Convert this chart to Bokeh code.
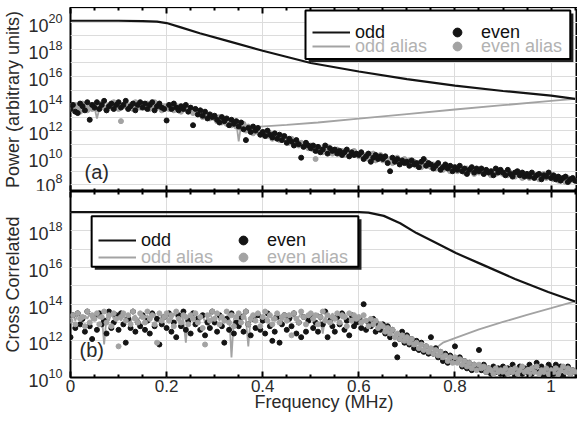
from bokeh.plotting import figure
from bokeh.layouts import column
from bokeh.models import (FixedTicker, LogTickFormatter, LinearAxis, Legend,
                          LegendItem, Label, Range1d, Grid, Spacer)
from bokeh.embed import file_html
from bokeh.resources import INLINE

# ---------------- data (log10 of values) ----------------
freq = [
    0.000, 0.005, 0.010, 0.015, 0.020, 0.025, 0.030, 0.035, 0.040, 0.045,
    0.050, 0.055, 0.060, 0.065, 0.070, 0.075, 0.080, 0.085, 0.090, 0.095,
    0.100, 0.105, 0.110, 0.115, 0.120, 0.125, 0.130, 0.135, 0.140, 0.145,
    0.150, 0.155, 0.160, 0.165, 0.170, 0.175, 0.180, 0.185, 0.190, 0.195,
    0.200, 0.205, 0.210, 0.215, 0.220, 0.225, 0.230, 0.235, 0.240, 0.245,
    0.250, 0.255, 0.260, 0.265, 0.270, 0.275, 0.280, 0.285, 0.290, 0.295,
    0.300, 0.305, 0.310, 0.315, 0.320, 0.325, 0.330, 0.335, 0.340, 0.345,
    0.350, 0.355, 0.360, 0.365, 0.370, 0.375, 0.380, 0.385, 0.390, 0.395,
    0.400, 0.405, 0.410, 0.415, 0.420, 0.425, 0.430, 0.435, 0.440, 0.445,
    0.450, 0.455, 0.460, 0.465, 0.470, 0.475, 0.480, 0.485, 0.490, 0.495,
    0.500, 0.505, 0.510, 0.515, 0.520, 0.525, 0.530, 0.535, 0.540, 0.545,
    0.550, 0.555, 0.560, 0.565, 0.570, 0.575, 0.580, 0.585, 0.590, 0.595,
    0.600, 0.605, 0.610, 0.615, 0.620, 0.625, 0.630, 0.635, 0.640, 0.645,
    0.650, 0.655, 0.660, 0.665, 0.670, 0.675, 0.680, 0.685, 0.690, 0.695,
    0.700, 0.705, 0.710, 0.715, 0.720, 0.725, 0.730, 0.735, 0.740, 0.745,
    0.750, 0.755, 0.760, 0.765, 0.770, 0.775, 0.780, 0.785, 0.790, 0.795,
    0.800, 0.805, 0.810, 0.815, 0.820, 0.825, 0.830, 0.835, 0.840, 0.845,
    0.850, 0.855, 0.860, 0.865, 0.870, 0.875, 0.880, 0.885, 0.890, 0.895,
    0.900, 0.905, 0.910, 0.915, 0.920, 0.925, 0.930, 0.935, 0.940, 0.945,
    0.950, 0.955, 0.960, 0.965, 0.970, 0.975, 0.980, 0.985, 0.990, 0.995,
    1.000, 1.005, 1.010, 1.015, 1.020, 1.025, 1.030, 1.035, 1.040, 1.045,
    1.050,
]

# ----- panel (a): Power -----
odd_a_f = [0.0, 0.10, 0.15, 0.18, 0.20, 0.228, 0.269, 0.33, 0.40, 0.50,
           0.60, 0.70, 0.80, 0.90, 1.00, 1.05]
odd_a_e = [20.12, 20.12, 20.10, 20.05, 19.95, 19.65, 19.2, 18.6, 17.9, 17.0,
           16.37, 15.8, 15.33, 14.93, 14.58, 14.35]

even_a_e = [
    13.6, 13.9, 13.4, 13.3, 14.0, 13.8, 13.5, 14.1, 12.8, 13.9,
    13.7, 14.1, 13.6, 13.9, 14.2, 13.5, 13.8, 14.0, 13.6, 13.9,
    14.1, 13.7, 13.9, 14.2, 13.6, 13.8, 14.0, 13.5, 13.9, 14.1,
    13.7, 14.0, 13.6, 13.9, 14.1, 13.5, 13.8, 14.0, 13.7, 13.6,
    12.75, 13.9, 13.6, 14.0, 13.7, 13.5, 13.8, 13.6, 13.9, 13.4,
    13.7, 12.4, 13.6, 13.2, 13.5, 13.1, 13.4, 12.9, 13.2, 13.0,
    13.1, 12.8, 12.6, 13.0, 12.7, 12.9, 12.4, 12.8, 12.5, 12.7,
    12.3, 12.6, 12.1, 11.3, 12.2, 11.9, 12.3, 12.0, 12.2, 11.7,
    11.9, 11.6, 12.0, 11.7, 11.5, 11.8, 11.4, 11.7, 11.3, 11.6,
    11.1, 11.4, 11.2, 10.9, 11.3, 11.0, 10.0, 10.8, 11.1, 10.9,
    10.7, 10.9, 10.5, 10.8, 10.4, 10.6, 10.9, 10.3, 10.7, 10.5,
    10.6, 10.3, 10.5, 10.2, 10.4, 10.6, 10.1, 10.4, 10.2, 10.3,
    10.2, 10.4, 9.9, 10.1, 10.3, 9.7, 10.0, 10.2, 9.9, 10.1,
    9.9, 10.1, 9.6, 9.0, 10.0, 9.7, 9.9, 9.5, 9.8, 9.6,
    9.7, 9.4, 9.8, 9.5, 9.6, 9.3, 9.7, 9.9, 9.4, 9.6,
    9.5, 9.2, 9.4, 9.6, 9.1, 9.3, 9.5, 9.2, 9.4, 9.0,
    9.3, 9.1, 9.4, 9.0, 9.2, 8.8, 9.1, 9.3, 8.9, 9.2,
    9.0, 9.2, 8.8, 9.1, 8.9, 9.0, 8.7, 9.2, 8.9, 9.1,
    8.9, 8.7, 9.1, 8.8, 8.6, 8.9, 9.0, 8.7, 8.9, 8.6,
    8.8, 8.6, 8.9, 8.5, 8.7, 8.8, 8.4, 8.7, 8.6, 8.9,
    8.5, 8.7, 8.4, 8.6, 8.3, 8.5, 8.6, 8.2, 8.4, 8.5,
    8.3,
]

even_alias_a_e = [
    13.8, 13.5, 13.9, 13.6, 13.4, 14.0, 13.7, 13.5, 13.9, 13.6,
    13.9, 13.6, 13.8, 14.0, 13.7, 13.5, 13.9, 13.7, 14.1, 13.8,
    13.6, 12.7, 13.8, 14.0, 13.7, 13.9, 13.6, 14.1, 13.8, 13.7,
    13.9, 13.7, 14.0, 13.6, 13.8, 14.1, 13.7, 13.9, 13.5, 13.8,
    13.8, 13.6, 13.9, 13.5, 13.8, 13.7, 13.4, 13.7, 13.6, 13.5,
    13.5, 13.3, 13.6, 13.2, 13.4, 13.0, 13.3, 13.1, 12.9, 13.1,
    12.9, 12.7, 13.0, 12.6, 12.8, 12.5, 12.7, 12.4, 12.6, 12.3,
    12.4, 12.2, 12.5, 12.0, 12.3, 12.1, 11.8, 12.0, 11.9, 11.7,
    11.8, 11.9, 11.6, 11.8, 11.4, 11.7, 11.5, 11.3, 11.6, 11.4,
    11.3, 11.1, 11.4, 11.0, 11.2, 10.9, 11.1, 10.8, 11.0, 10.7,
    10.9, 10.6, 9.9, 10.5, 10.7, 10.4, 10.6, 10.8, 10.5, 10.3,
    10.4, 10.6, 10.3, 10.5, 10.2, 10.4, 10.1, 10.3, 10.5, 10.2,
    10.1, 10.3, 10.0, 10.2, 9.9, 10.1, 10.3, 9.8, 10.0, 10.2,
    9.8, 10.0, 9.7, 9.9, 9.6, 9.8, 10.0, 9.6, 9.7, 9.9,
    9.6, 9.8, 9.5, 9.7, 9.4, 9.6, 9.3, 9.5, 9.7, 9.4,
    9.3, 9.5, 9.2, 9.4, 9.3, 9.1, 9.4, 9.2, 9.0, 9.3,
    9.2, 9.0, 9.3, 9.1, 8.9, 9.2, 9.0, 9.1, 8.8, 9.0,
    8.9, 9.1, 8.8, 9.0, 8.9, 8.7, 9.0, 8.8, 9.1, 8.9,
    8.8, 8.9, 8.7, 8.9, 8.8, 8.6, 8.9, 8.7, 8.5, 8.8,
    8.7, 8.5, 8.8, 8.6, 8.7, 8.4, 8.6, 8.8, 8.5, 8.7,
    8.5, 8.4, 8.6, 8.3, 8.5, 8.4, 8.2, 8.5, 8.3, 8.4,
    8.3,
]

# odd alias: noisy part (first 77 bins, 0 .. 0.38 MHz) then the rising alias line
odd_alias_a_noise_e = [
    13.7, 13.5, 13.8, 13.6, 13.9, 13.7, 13.4, 13.8, 13.6, 13.9,
    13.7, 12.9, 13.6, 13.8, 13.7, 13.9, 13.6, 13.8, 13.7, 13.9,
    13.8, 13.6, 13.9, 13.7, 13.8, 13.6, 13.9, 13.7, 13.8, 13.6,
    13.8, 13.7, 13.9, 13.6, 13.8, 13.7, 13.9, 13.6, 13.8, 13.7,
    13.7, 13.8, 13.6, 13.7, 13.5, 13.7, 13.6, 13.4, 13.6, 13.5,
    13.4, 13.5, 13.3, 13.4, 13.2, 13.3, 13.1, 13.2, 13.0, 13.1,
    12.9, 13.0, 12.8, 12.9, 12.7, 12.8, 12.6, 12.7, 12.5, 12.6,
    11.2, 12.4, 12.3, 12.2, 12.3, 12.1, 12.2,
]
odd_alias_a_tail_f = [0.386, 0.45, 0.515, 0.60, 0.70, 0.80, 0.90, 1.00, 1.05]
odd_alias_a_tail_e = [12.28, 12.42, 12.6, 12.88, 13.22, 13.56, 13.88, 14.2, 14.35]

# ----- panel (b): Cross correlated -----
odd_b_f = [0.0, 0.30, 0.60, 0.62, 0.652, 0.686, 0.72, 0.754, 0.802, 0.857,
           0.925, 0.994, 1.05]
odd_b_e = [19.02, 19.02, 19.02, 19.0, 18.82, 18.42, 17.88, 17.43, 16.79, 16.16,
           15.38, 14.67, 14.15]

even_b_e = [
    12.2, 13.4, 12.7, 13.5, 12.9, 13.2, 12.5, 13.6, 12.8, 12.1,
    13.3, 12.6, 13.5, 12.9, 13.1, 12.4, 13.6, 12.7, 13.0, 13.4,
    12.6, 13.5, 12.9, 11.9, 13.2, 12.7, 13.6, 12.5, 13.0, 12.8,
    13.4, 12.6, 13.1, 12.4, 13.5, 12.8, 13.2, 11.8, 12.9, 13.3,
    12.7, 13.5, 12.5, 13.0, 12.2, 13.4, 12.8, 13.6, 12.6, 13.1,
    12.4, 13.5, 12.9, 13.2, 12.6, 13.4, 12.3, 13.0, 12.7, 13.6,
    13.0, 12.5, 13.4, 12.8, 11.9, 13.2, 12.6, 13.5, 12.4, 13.0,
    12.8, 13.3, 12.5, 13.6, 12.9, 12.3, 13.2, 12.7, 13.4, 12.6,
    13.1, 12.4, 13.5, 12.8, 12.0, 12.5, 13.3, 11.9, 12.9, 13.4,
    12.6, 13.2, 12.8, 13.5, 12.4, 13.0, 12.2, 13.3, 12.5, 13.1,
    13.4, 12.7, 13.0, 12.5, 13.3, 12.9, 13.6, 12.2, 13.1, 12.8,
    12.5, 13.3, 12.9, 13.5, 12.6, 13.1, 12.3, 13.4, 12.8, 13.0,
    13.2, 12.7, 14.0, 12.6, 13.0, 12.8, 13.2, 12.5, 12.9, 12.6,
    12.9, 12.4, 12.8, 12.2, 12.6, 11.8, 11.1, 12.1, 12.5, 11.9,
    12.3, 11.8, 12.1, 11.6, 12.0, 11.5, 11.9, 11.4, 11.7, 11.3,
    12.2, 11.3, 11.6, 11.1, 11.4, 10.9, 11.3, 10.8, 11.2, 11.0,
    11.7, 10.9, 11.1, 10.6, 10.9, 10.5, 10.8, 10.4, 10.7, 10.5,
    11.5, 10.4, 10.7, 10.3, 10.5, 10.2, 10.6, 10.3, 10.5, 10.2,
    10.6, 10.2, 10.5, 10.3, 10.7, 10.1, 10.4, 10.6, 10.2, 10.5,
    10.3, 10.7, 10.2, 10.5, 10.8, 10.3, 10.6, 10.1, 10.4, 10.7,
    10.5, 10.2, 10.7, 10.3, 10.6, 10.1, 10.4, 10.6, 10.2, 10.4,
    10.3,
]

even_alias_b_e = [
    13.1, 13.4, 12.9, 13.5, 13.2, 13.3, 12.8, 13.6, 13.0, 13.4,
    13.2, 13.5, 12.9, 13.3, 13.6, 13.0, 13.4, 12.8, 13.5, 13.2,
    11.7, 13.3, 13.5, 13.1, 13.4, 12.9, 13.6, 13.2, 13.0, 13.5,
    13.3, 13.0, 13.6, 13.2, 13.4, 12.9, 11.9, 13.5, 13.1, 13.3,
    13.5, 13.1, 13.4, 12.8, 13.6, 13.2, 13.0, 13.4, 13.3, 12.9,
    13.4, 13.2, 13.5, 13.0, 13.3, 12.7, 11.8, 13.4, 13.1, 13.6,
    13.2, 13.5, 12.9, 13.3, 13.1, 13.6, 13.0, 13.4, 12.8, 13.3,
    13.5, 13.0, 13.3, 13.6, 12.9, 13.2, 13.4, 13.1, 13.5, 12.8,
    13.3, 13.6, 13.1, 13.4, 12.9, 13.2, 13.5, 13.0, 13.3, 13.4,
    13.1, 13.4, 12.3, 13.5, 13.2, 13.0, 13.6, 13.3, 12.9, 13.4,
    13.5, 13.2, 13.4, 12.9, 13.3, 13.6, 13.1, 13.4, 13.0, 13.3,
    13.2, 13.5, 13.0, 13.4, 13.3, 12.8, 13.5, 13.1, 13.4, 13.2,
    13.3, 13.0, 13.4, 13.1, 12.8, 13.2, 12.9, 13.1, 12.7, 12.9,
    12.8, 12.5, 12.7, 12.4, 12.6, 12.2, 12.4, 12.1, 12.3, 12.0,
    12.2, 11.9, 12.1, 11.8, 11.9, 11.6, 11.8, 11.5, 11.7, 11.4,
    11.6, 11.3, 11.5, 11.2, 11.4, 11.1, 11.2, 10.9, 11.1, 10.8,
    11.1, 10.8, 11.0, 10.7, 10.9, 10.6, 10.8, 10.5, 10.7, 10.4,
    10.7, 10.5, 10.6, 10.3, 10.5, 10.4, 10.2, 10.5, 10.3, 10.4,
    10.3, 10.5, 10.2, 10.4, 10.3, 10.5, 10.2, 10.4, 10.6, 10.3,
    10.4, 10.2, 10.5, 10.3, 10.6, 10.2, 10.4, 10.3, 10.5, 10.2,
    10.4, 10.3, 10.5, 10.2, 10.4, 10.6, 10.3, 10.5, 10.2, 10.4,
    10.3,
]

# odd alias: noisy part (first 155 bins, 0 .. 0.77 MHz) then the rising alias line
odd_alias_b_noise_e = [
    13.2, 13.4, 13.1, 13.5, 13.3, 13.0, 13.4, 13.2, 13.5, 13.1,
    13.3, 13.5, 13.2, 13.4, 11.8, 13.3, 13.1, 13.5, 13.2, 13.4,
    13.3, 13.1, 13.4, 13.2, 13.5, 13.0, 13.3, 13.4, 13.1, 13.3,
    13.5, 13.2, 13.4, 13.1, 13.3, 13.5, 13.2, 13.0, 13.4, 13.3,
    13.2, 13.4, 13.1, 13.5, 13.3, 13.2, 13.4, 13.1, 11.9, 13.3,
    13.4, 13.2, 13.5, 13.1, 13.3, 13.4, 13.0, 13.3, 13.5, 13.2,
    13.3, 13.5, 13.1, 13.4, 13.2, 13.3, 13.5, 11.1, 13.2, 13.4,
    13.1, 13.3, 13.5, 13.2, 11.7, 13.4, 13.1, 13.3, 13.5, 13.2,
    13.4, 13.2, 13.3, 13.5, 13.1, 13.4, 13.2, 13.3, 13.0, 13.4,
    13.3, 13.5, 13.2, 13.4, 13.1, 13.3, 13.5, 13.2, 13.4, 13.1,
    13.2, 13.4, 13.3, 13.5, 13.1, 12.4, 13.3, 13.4, 13.2, 13.5,
    13.3, 13.1, 13.4, 13.2, 13.5, 13.3, 13.2, 13.4, 13.1, 13.3,
    13.2, 13.3, 13.1, 13.2, 13.0, 13.1, 12.9, 13.0, 12.8, 12.9,
    12.7, 12.8, 12.6, 12.5, 12.6, 12.3, 12.4, 12.2, 12.3, 12.1,
    12.1, 12.0, 11.9, 12.0, 11.8, 11.9, 11.7, 11.8, 11.6, 11.7,
    11.5, 11.6, 11.4, 11.7, 11.8,
]
odd_alias_b_tail_f = [0.775, 0.80, 0.85, 0.90, 0.95, 1.00, 1.05]
odd_alias_b_tail_e = [11.9, 12.15, 12.63, 13.03, 13.42, 13.78, 14.15]

x_ticks = [0.0, 0.2, 0.4, 0.6, 0.8, 1.0]
x_minor = [0.05, 0.1, 0.15, 0.25, 0.3, 0.35, 0.45, 0.5, 0.55, 0.65, 0.7, 0.75,
           0.85, 0.9, 0.95, 1.05]
x_labels = {0.0: "0", 0.2: "0.2", 0.4: "0.4", 0.6: "0.6", 0.8: "0.8", 1.0: "1"}
ya_major = [1e8, 1e10, 1e12, 1e14, 1e16, 1e18, 1e20]
ya_minor = [1e9, 1e11, 1e13, 1e15, 1e17, 1e19, 1e21]
yb_major = [1e10, 1e12, 1e14, 1e16, 1e18]
yb_minor = [1e11, 1e13, 1e15, 1e17, 1e19]

# ---------------- styling ----------------
FONT = "Liberation Sans"
BLK = "#141414"
GRY = "#a3a3a3"
TXT = "#2a2a2a"
GRID = "#dcdcdc"


def pw(lst):
    return [10 ** v for v in lst]


def base_fig(frame_h, y_lo, y_hi):
    p = figure(frame_width=507, frame_height=frame_h, y_axis_type="log",
               x_range=Range1d(0, 1.055), y_range=Range1d(y_lo, y_hi),
               output_backend="svg", toolbar_location=None, x_axis_location=None)
    p.min_border = 0
    p.min_border_left = 0
    p.min_border_right = 0
    p.min_border_top = 0
    p.min_border_bottom = 0
    p.outline_line_color = "black"
    p.outline_line_width = 2
    p.background_fill_color = "white"
    p.border_fill_color = "white"
    return p


def style_yaxis(p, major, minor, label):
    yax = p.yaxis[0]
    yax.ticker = FixedTicker(ticks=major, minor_ticks=minor)
    yax.formatter = LogTickFormatter()
    yax.major_tick_line_color = None
    yax.minor_tick_line_color = None
    yax.axis_line_color = None
    yax.major_label_text_font = FONT
    yax.major_label_text_font_size = "18px"
    yax.major_label_text_color = TXT
    yax.major_label_standoff = 2
    yax.axis_label = label
    yax.axis_label_text_font = FONT
    yax.axis_label_text_font_size = "18px"
    yax.axis_label_text_font_style = "normal"
    yax.axis_label_text_color = TXT
    yax.axis_label_standoff = 2
    g = p.ygrid[0]
    g.ticker = yax.ticker
    g.grid_line_color = GRID
    g.minor_grid_line_color = GRID


def add_xaxis(p, loc, labels):
    ax = LinearAxis(ticker=FixedTicker(ticks=x_ticks, minor_ticks=x_minor))
    ax.major_tick_in = 6
    ax.major_tick_out = 0
    ax.minor_tick_in = 3
    ax.minor_tick_out = 0
    ax.major_tick_line_color = "black"
    ax.minor_tick_line_color = "black"
    ax.major_tick_line_width = 2
    ax.minor_tick_line_width = 2
    ax.axis_line_color = None
    if labels:
        ax.major_label_overrides = x_labels
        ax.major_label_text_font = FONT
        ax.major_label_text_font_size = "17px"
        ax.major_label_text_color = TXT
        ax.major_label_standoff = 2
        ax.axis_label = "Frequency (MHz)"
        ax.axis_label_text_font = FONT
        ax.axis_label_text_font_size = "18px"
        ax.axis_label_text_font_style = "normal"
        ax.axis_label_text_color = TXT
        ax.axis_label_standoff = -3
    else:
        ax.major_label_overrides = {t: "" for t in x_ticks}
        ax.major_label_standoff = 0
        ax.major_label_text_font_size = "1px"
    p.add_layout(ax, loc)
    return ax


def add_vgrid(p):
    p.xgrid.visible = False
    p.add_layout(Grid(dimension=0, ticker=FixedTicker(ticks=x_ticks),
                      grid_line_color=GRID))


def add_legend(p, r_odd, r_even, r_odd_al, r_even_al, gx, y1, y2, box, sh):
    # legend frame with drop shadow (decoration, drawn above the data)
    left, right, top, bottom = box
    sx, sy = sh
    p.quad(left=[left + sx], right=[right + sx], top=[top / sy], bottom=[bottom / sy],
           fill_color="#222222", line_color=None, level="annotation")
    p.quad(left=[left], right=[right], top=[top], bottom=[bottom],
           fill_color="white", line_color="black", line_width=2, level="annotation")
    for items, yy, col in (([LegendItem(label="odd", renderers=[r_odd]),
                             LegendItem(label="even", renderers=[r_even])], y1, "#111111"),
                           ([LegendItem(label="odd alias", renderers=[r_odd_al]),
                             LegendItem(label="even alias", renderers=[r_even_al])], y2, "#b2b2b2")):
        leg = Legend(items=items, location=(gx, yy), orientation="horizontal",
                     glyph_width=38, glyph_height=22, label_standoff=5,
                     label_width=80, label_height=22, spacing=3, padding=0, margin=0,
                     border_line_color=None, background_fill_alpha=0,
                     label_text_font=FONT, label_text_font_size="18px",
                     label_text_color=col)
        p.add_layout(leg)


# ---------------- panel (a) ----------------
# the range reaches a little below 1e8 so that the 10^8 label stays inside the panel
pa = base_fig(184, 10 ** 7.5, 10 ** 21.1)
style_yaxis(pa, ya_major, ya_minor, "Power (arbitrary units)")
add_vgrid(pa)
add_xaxis(pa, "above", False)
add_xaxis(pa, "below", False)

ra_al = pa.line(freq[:77] + odd_alias_a_tail_f,
                pw(odd_alias_a_noise_e + odd_alias_a_tail_e),
                line_color=GRY, line_width=1.8)
ra_eal = pa.scatter(freq, pw(even_alias_a_e), size=5, color=GRY)
ra_ev = pa.scatter(freq, pw(even_a_e), size=5, color=BLK)
ra_odd = pa.line(odd_a_f, pw(odd_a_e), line_color=BLK, line_width=2.2)

# legend box in data coordinates: (left MHz, right MHz, top value, bottom value)
add_legend(pa, ra_odd, ra_ev, ra_al, ra_eal, 242, 148, 134,
           (0.489, 1.040, 10 ** 20.88, 10 ** 17.3), (0.0065, 10 ** 0.22))
pa.add_layout(Label(x=14, y=9, x_units="screen", y_units="screen", text="(a)",
                    text_font=FONT, text_font_size="20px", text_color=TXT,
                    text_baseline="bottom"))

# ---------------- panel (b) ----------------
pb = base_fig(186, 1e10, 10 ** 20.15)
style_yaxis(pb, yb_major, yb_minor, "Cross Correlated")
add_vgrid(pb)
add_xaxis(pb, "above", False)
add_xaxis(pb, "below", True)

rb_al = pb.line(freq[:155] + odd_alias_b_tail_f,
                pw(odd_alias_b_noise_e + odd_alias_b_tail_e),
                line_color=GRY, line_width=1.8)
rb_ev = pb.scatter(freq, pw(even_b_e), size=5, color=BLK)
rb_eal = pb.scatter(freq, pw(even_alias_b_e), size=5, color=GRY)
rb_odd = pb.line(odd_b_f, pw(odd_b_e), line_color=BLK, line_width=2.2)

add_legend(pb, rb_odd, rb_ev, rb_al, rb_eal, 28, 126, 109,
           (0.044, 0.599, 10 ** 18.8, 10 ** 16.05), (0.0065, 10 ** 0.17))
pb.add_layout(Label(x=9, y=17, x_units="screen", y_units="screen", text="(b)",
                    text_font=FONT, text_font_size="20px", text_color=TXT,
                    text_baseline="bottom"))

layout = column(Spacer(width=10, height=7), pa, pb, spacing=0)
open("out.html", "w").write(file_html(layout, INLINE))
